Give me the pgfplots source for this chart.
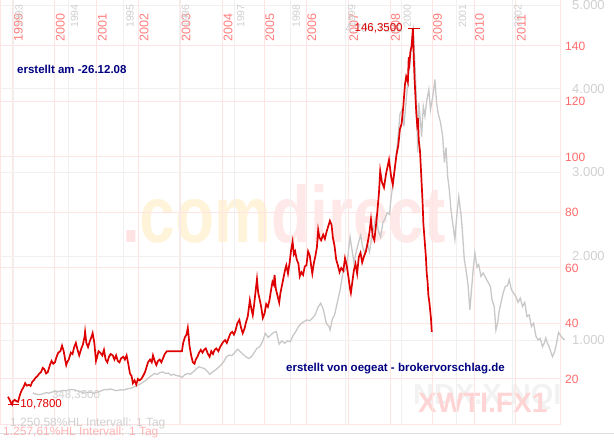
\documentclass[border=0pt]{standalone}
\usepackage{fontspec}
\setmainfont{Liberation Sans}
\usepackage{pgfplots}
\pgfplotsset{compat=1.18}

\definecolor{oil}{RGB}{222,0,0}
\definecolor{ndx}{RGB}{200,200,200}
\definecolor{pinkgrid}{RGB}{255,228,228}
\definecolor{graygrid}{RGB}{240,240,240}
\definecolor{redlab}{RGB}{255,105,105}
\definecolor{redyear}{RGB}{255,125,125}
\definecolor{graylab}{RGB}{208,208,208}
\definecolor{navy}{RGB}{0,0,128}
\definecolor{wmdot}{RGB}{255,226,226}
\definecolor{wmcom}{RGB}{255,243,218}
\definecolor{wmdirect}{RGB}{255,232,232}
\definecolor{wmndx}{RGB}{242,242,242}
\definecolor{wmwti}{RGB}{255,212,212}
\definecolor{pinktext}{RGB}{255,180,180}

\newcommand\fs[1]{\fontsize{#1}{#1}\selectfont}

\pgfplotsset{
  frame/.style={scale only axis, width=560pt, height=425pt,
    at={(0pt,16pt)}, anchor=south west, clip=false},
  oilrange/.style={xmin=1998.690, xmax=2012.049, ymin=3.42, ymax=156.58},
  ndxrange/.style={xmin=1992.7655, xmax=2002.866, ymin=-14.9, ymax=5059.7},
}

\begin{document}
\begin{tikzpicture}[x=1pt,y=1pt]
\path[use as bounding box] (0,0) rectangle (614,441);

% watermarks (pixel positions, y measured from top)
\node[anchor=base west, inner sep=0, xscale=0.8, font=\fs{80}\bfseries]
  at (122,198) {\textcolor{wmdot}{.}\textcolor{wmcom}{com}\textcolor{wmdirect}{direct}};
\node[anchor=base west, inner sep=0, text=wmndx, font=\fs{29}\bfseries] at (413,36) {NDX.X.NQI};
\node[anchor=base west, inner sep=0, text=wmwti, font=\fs{28}\bfseries] at (418,28) {XWTI.FX1};
\draw[color=black!13, line width=0.8pt] (0,8) -- (614,8);

% oil frame: grid and right-hand scale
\begin{axis}[frame, oilrange,
  xtick={1999,...,2011}, xticklabel=\empty,
  ytick={20,40,...,140}, yticklabel pos=right,
  yticklabel style={font=\fs{12}, text=redlab, anchor=west, inner sep=0pt, xshift=5pt},
  /pgf/number format/assume math mode=true,
  xmajorgrids, ymajorgrids, grid style={pinkgrid, line width=1pt},
  major tick length=0pt, axis line style={pinkgrid, line width=1pt}]
\pgfplotsinvokeforeach{1999,...,2011}{
  \node[xshift=10pt, rotate=90, anchor=south west, inner sep=0pt, text=redyear, font=\fs{12.5}]
    at (axis cs:#1,141.44) {#1};}
\end{axis}

% NDX series with its own time and value scale
\begin{axis}[frame, ndxrange,
  xtick={1993,...,2002}, xticklabel=\empty,
  ytick={1000,2000,...,5000}, yticklabels={1.000,2.000,3.000,4.000,5.000},
  yticklabel pos=right,
  yticklabel style={font=\fs{13}, text=graylab, anchor=west, inner sep=0pt, xshift=12pt},
  xmajorgrids, ymajorgrids, grid style={graygrid, line width=0.8pt},
  major tick length=0pt, axis line style={draw=none}]
\pgfplotsinvokeforeach{1993,...,2002}{
  \node[xshift=10pt, rotate=90, anchor=south west, inner sep=0pt, text=graylab, font=\fs{10.5}]
    at (axis cs:#1,4725) {#1};}
\addplot[ndx, line width=1.3pt] coordinates {
(1993.36,370)(1993.40,355)(1993.45,350)(1993.50,348.35)(1993.55,360)(1993.60,372)
(1993.65,365)(1993.70,378)(1993.75,385)(1993.80,380)(1993.85,390)(1993.90,398)
(1993.95,395)(1994.00,400)(1994.05,410)(1994.10,405)(1994.15,398)(1994.20,385)
(1994.25,375)(1994.30,380)(1994.35,370)(1994.40,378)(1994.45,365)(1994.50,372)
(1994.55,385)(1994.60,395)(1994.65,410)(1994.70,405)(1994.75,415)(1994.80,408)
(1994.85,395)(1994.90,400)(1994.95,405)(1995.00,402)(1995.05,415)(1995.10,420)
(1995.15,430)(1995.20,445)(1995.25,460)(1995.30,475)(1995.35,500)(1995.40,520)
(1995.45,550)(1995.50,575)(1995.55,600)(1995.60,590)(1995.65,610)(1995.70,620)
(1995.75,600)(1995.80,605)(1995.85,580)(1995.90,590)(1995.95,575)(1996.00,570)
(1996.05,555)(1996.10,585)(1996.15,600)(1996.20,590)(1996.25,620)(1996.30,650)
(1996.35,680)(1996.40,670)(1996.45,660)(1996.50,630)(1996.55,590)(1996.60,620)
(1996.65,640)(1996.70,670)(1996.75,700)(1996.80,740)(1996.85,800)(1996.90,820)
(1996.95,815)(1997.00,850)(1997.05,890)(1997.10,860)(1997.15,830)(1997.20,800)
(1997.25,780)(1997.30,800)(1997.35,850)(1997.40,900)(1997.45,920)(1997.50,980)
(1997.55,1080)(1997.60,1030)(1997.65,1060)(1997.70,1090)(1997.75,1100)(1997.80,950)
(1997.85,990)(1997.90,960)(1997.95,990)(1998.00,980)(1998.05,1050)(1998.10,1100)
(1998.15,1160)(1998.20,1200)(1998.25,1220)(1998.30,1240)(1998.35,1230)(1998.40,1260)
(1998.45,1300)(1998.50,1390)(1998.55,1440)(1998.60,1360)(1998.65,1200)(1998.70,1160)
(1998.72,1120)(1998.76,1250)(1998.80,1300)(1998.85,1450)(1998.90,1600)(1998.95,1800)
(1999.00,1840)(1999.04,2000)(1999.08,2230)(1999.12,2050)(1999.15,1920)(1999.19,2050)
(1999.23,2160)(1999.27,2250)(1999.31,2100)(1999.35,2040)(1999.39,2150)(1999.43,2050)
(1999.47,2230)(1999.51,2350)(1999.55,2470)(1999.59,2300)(1999.63,2230)(1999.67,2400)
(1999.71,2450)(1999.75,2520)(1999.79,2500)(1999.82,2700)(1999.86,2900)(1999.90,3120)
(1999.94,3390)(1999.98,3700)(2000.02,3750)(2000.05,3550)(2000.09,3850)(2000.13,4140)
(2000.17,4400)(2000.20,4620)(2000.22,4704.73)(2000.25,4300)(2000.28,3800)(2000.30,3240)
(2000.32,3830)(2000.35,3600)(2000.37,3430)(2000.40,3790)(2000.43,3670)(2000.46,3850)
(2000.50,3990)(2000.53,3750)(2000.57,3900)(2000.61,4110)(2000.64,3830)(2000.67,3700)
(2000.71,3600)(2000.75,3430)(2000.78,3120)(2000.81,3300)(2000.84,2950)(2000.87,2790)
(2000.90,2550)(2000.93,2400)(2000.97,2200)(2001.00,2450)(2001.04,2710)(2001.08,2500)
(2001.10,2350)(2001.14,1960)(2001.18,1800)(2001.21,1640)(2001.24,1360)(2001.27,1600)
(2001.30,1840)(2001.33,2040)(2001.37,1870)(2001.40,1900)(2001.44,1760)(2001.48,1800)
(2001.52,1750)(2001.56,1700)(2001.61,1640)(2001.64,1480)(2001.68,1400)(2001.71,1120)
(2001.74,1200)(2001.77,1350)(2001.80,1440)(2001.84,1560)(2001.88,1640)(2001.92,1650)
(2001.95,1720)(2001.99,1600)(2002.03,1560)(2002.07,1520)(2002.11,1450)(2002.15,1500)
(2002.19,1400)(2002.23,1450)(2002.27,1280)(2002.31,1300)(2002.35,1160)(2002.39,1200)
(2002.43,1050)(2002.47,1000)(2002.51,1020)(2002.55,920)(2002.58,960)(2002.61,1025)
(2002.64,960)(2002.67,920)(2002.70,860)(2002.73,800)(2002.77,860)(2002.80,950)
(2002.84,1090)(2002.88,1050)(2002.91,1025)(2002.95,1000)};
\node[anchor=west, inner sep=0pt, text=graylab, font=\fs{11.5}] at (axis cs:1993.70,343) {348,3500};
\node[anchor=east, inner sep=0pt, text=graylab, font=\fs{11.5}] at (axis cs:2000.035,4704.73) {4.704,7300};
\end{axis}

% oil series on top
\begin{axis}[frame, oilrange, hide axis]
\addplot[oil, line width=1.7pt] coordinates {
(1998.88,13.6)(1998.92,12.5)(1998.96,11.2)(1998.98,10.78)(1999.00,12.0)(1999.04,12.5)
(1999.08,12.0)(1999.12,11.8)(1999.17,14.5)(1999.21,16.0)(1999.25,17.0)(1999.29,18.5)
(1999.33,17.6)(1999.38,17.9)(1999.42,17.5)(1999.46,19.0)(1999.50,19.6)(1999.54,20.5)
(1999.58,21.0)(1999.63,22.0)(1999.67,22.5)(1999.71,24.0)(1999.75,23.5)(1999.79,22.0)
(1999.83,22.5)(1999.88,25.0)(1999.92,26.5)(1999.96,25.5)(2000.00,26.0)(2000.04,28.0)
(2000.08,29.5)(2000.13,30.0)(2000.17,32.0)(2000.21,30.0)(2000.25,26.5)(2000.27,25.0)
(2000.29,26.0)(2000.33,27.0)(2000.38,29.5)(2000.42,29.0)(2000.46,31.5)(2000.50,33.0)
(2000.54,30.5)(2000.58,28.5)(2000.63,31.0)(2000.67,32.5)(2000.71,35.5)(2000.72,37.0)
(2000.75,33.0)(2000.79,31.5)(2000.83,33.5)(2000.88,35.5)(2000.90,36.5)(2000.94,33.0)
(2000.98,26.5)(2001.00,27.5)(2001.04,30.0)(2001.08,29.5)(2001.13,28.5)(2001.17,30.5)
(2001.21,27.0)(2001.25,26.0)(2001.29,28.0)(2001.33,29.0)(2001.38,28.5)(2001.42,27.0)
(2001.46,28.5)(2001.50,26.5)(2001.54,26.0)(2001.58,27.5)(2001.63,28.0)(2001.67,27.0)
(2001.71,28.5)(2001.75,25.5)(2001.79,22.0)(2001.83,21.0)(2001.86,18.5)(2001.90,19.5)
(2001.94,18.0)(2001.98,20.0)(2002.02,19.5)(2002.06,20.0)(2002.10,21.0)(2002.15,22.5)
(2002.19,24.5)(2002.22,26.0)(2002.27,27.0)(2002.31,26.0)(2002.34,28.5)(2002.38,26.5)
(2002.42,25.0)(2002.46,26.5)(2002.50,27.0)(2002.54,26.0)(2002.58,27.5)(2002.62,29.0)
(2002.67,30.0)(2003.03,30.0)(2003.06,33.0)(2003.10,35.0)(2003.14,36.0)(2003.17,38.4)
(2003.19,35.5)(2003.21,32.0)(2003.25,28.5)(2003.29,26.0)(2003.33,25.5)(2003.36,27.0)
(2003.40,28.0)(2003.44,29.5)(2003.48,30.5)(2003.52,29.5)(2003.56,30.5)(2003.60,31.0)
(2003.65,29.0)(2003.69,28.0)(2003.73,30.0)(2003.77,29.0)(2003.81,30.5)(2003.85,31.0)
(2003.90,30.0)(2003.94,31.5)(2003.98,32.5)(2004.02,33.5)(2004.06,34.0)(2004.10,33.0)
(2004.15,35.0)(2004.19,36.5)(2004.23,37.0)(2004.27,36.0)(2004.31,37.5)(2004.35,40.0)
(2004.40,41.3)(2004.44,38.5)(2004.48,36.5)(2004.52,38.0)(2004.56,40.5)(2004.60,42.5)
(2004.63,46.0)(2004.65,48.4)(2004.69,45.0)(2004.72,43.0)(2004.75,46.5)(2004.79,52.0)
(2004.82,56.0)(2004.85,51.0)(2004.88,49.0)(2004.92,46.0)(2004.96,42.0)(2005.00,43.5)
(2005.04,47.0)(2005.08,46.0)(2005.12,48.5)(2005.15,51.5)(2005.19,55.0)(2005.22,54.0)
(2005.24,57.5)(2005.27,52.5)(2005.31,50.0)(2005.35,47.5)(2005.38,51.0)(2005.42,54.0)
(2005.46,57.0)(2005.50,60.0)(2005.52,61.0)(2005.56,58.0)(2005.60,62.0)(2005.63,66.0)
(2005.67,69.5)(2005.70,65.0)(2005.73,66.0)(2005.77,63.0)(2005.81,61.5)(2005.84,57.0)
(2005.88,58.5)(2005.92,57.5)(2005.96,60.5)(2006.00,61.0)(2006.04,66.0)(2006.08,64.5)
(2006.12,60.0)(2006.14,58.0)(2006.18,62.0)(2006.21,64.0)(2006.25,67.5)(2006.28,73.7)
(2006.31,71.0)(2006.35,70.0)(2006.40,72.0)(2006.44,70.5)(2006.48,73.0)(2006.52,75.0)
(2006.56,77.0)(2006.60,75.5)(2006.63,71.0)(2006.67,68.0)(2006.71,63.0)(2006.75,61.0)
(2006.79,58.5)(2006.83,60.0)(2006.88,59.0)(2006.92,63.5)(2006.96,61.0)(2007.00,57.0)
(2007.04,52.5)(2007.06,51.0)(2007.10,55.5)(2007.13,59.0)(2007.17,61.5)(2007.21,58.0)
(2007.25,64.0)(2007.29,65.5)(2007.33,62.0)(2007.38,64.5)(2007.42,66.0)(2007.46,69.0)
(2007.50,72.5)(2007.54,77.5)(2007.58,71.5)(2007.62,70.0)(2007.65,74.0)(2007.69,80.0)
(2007.73,87.0)(2007.76,95.0)(2007.80,91.0)(2007.85,89.0)(2007.90,94.0)(2007.97,99.0)
(2008.02,93.0)(2008.06,90.0)(2008.10,95.0)(2008.15,101.0)(2008.19,104.0)(2008.23,110.0)
(2008.27,112.0)(2008.31,118.0)(2008.35,126.0)(2008.38,129.0)(2008.42,127.0)(2008.44,136.0)
(2008.46,134.0)(2008.48,138.0)(2008.51,140.0)(2008.54,146.35)(2008.56,136.0)(2008.58,128.0)
(2008.60,122.0)(2008.62,116.0)(2008.64,112.0)(2008.66,114.0)(2008.68,106.0)(2008.71,102.0)
(2008.73,96.0)(2008.75,90.0)(2008.77,84.0)(2008.79,76.0)(2008.81,72.0)(2008.83,68.0)
(2008.85,64.0)(2008.87,58.0)(2008.89,55.0)(2008.91,50.0)(2008.93,48.0)(2008.95,45.0)
(2008.97,42.0)(2008.99,37.0)};
\draw[oil, line width=1pt] (axis cs:2008.42,146.35) -- (axis cs:2008.71,146.35);
\node[anchor=east, inner sep=0pt, text=oil, font=\fs{11.5}] at (axis cs:2008.30,146.35) {146,3500};
\draw[oil, line width=1pt] (axis cs:1998.88,10.78) -- (axis cs:1999.14,10.78);
\node[anchor=west, inner sep=0pt, text=oil, font=\fs{11.5}] at (axis cs:1999.17,10.78) {10,7800};
\end{axis}

% annotations
\node[anchor=west, inner sep=0pt, text=navy, font=\fs{11.5}\bfseries] at (17,371.5) {erstellt am -26.12.08};
\node[anchor=west, inner sep=0pt, text=navy, font=\fs{11.5}\bfseries] at (286,72) {erstellt von oegeat - brokervorschlag.de};
\node[anchor=west, inner sep=0pt, text=graylab, font=\fs{12}] at (10,18) {1.250,58\%HL Intervall: 1 Tag};
\node[anchor=west, inner sep=0pt, text=pinktext, font=\fs{12}] at (3,9) {1.257,61\%HL Intervall: 1 Tag};
\end{tikzpicture}
\end{document}
